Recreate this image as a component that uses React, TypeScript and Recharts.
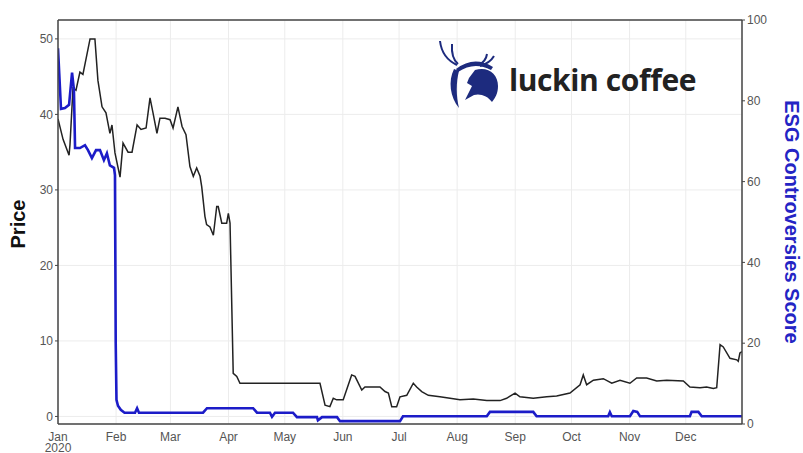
import React from "react";
import {
  LineChart,
  Line,
  XAxis,
  YAxis,
  CartesianGrid,
  ReferenceLine,
} from "recharts";

// days since 1 Jan 2020
const priceDays = [
  0, 2.7, 5.9, 6.4, 8, 9.6, 11.7, 13.3, 17.1, 19.7, 21.3, 23.5, 25.6, 27.7, 28.8,
  30.4, 33.1, 34.7, 37.4, 39.5, 42.2, 44.3, 47, 49.1, 50.7, 52.8, 54.4, 57.1,
  59.8, 61.4, 64, 66.2, 68.3, 70.4, 72.2, 74, 75.8, 76.7, 78.4, 79.3, 81.1, 82.9,
  84.7, 85.5, 87.4, 90, 90.9, 91.8, 93.5, 95.4, 97.1, 139.8, 142.5, 145.1, 146.9,
  148.7, 152.2, 156.7, 158.5, 162.1, 163.8, 171.8, 174.5, 176.3, 178.1, 180.7,
  182.5, 186.1, 189.6, 191.4, 194.1, 197.6, 203.8, 209.2, 214.5, 221.6, 228.8,
  235.9, 239.4, 243.9, 246.5, 253.6, 260.8, 266.1, 273.2, 278.6, 280.3, 282.1,
  285.7, 291, 295.5, 299.9, 305.2, 308.8, 314.1, 319.5, 324.8, 333.7, 337.2,
  342.6, 346.1, 349.7, 351.5, 353.3, 355, 358.6, 362.2, 363, 363.9, 365,
];
const prices = [
  39.4, 36.7, 34.6, 36, 43.5, 43.2, 45.6, 45.3, 50, 50, 44.5, 41, 40.2, 37.5,
  38.6, 34.9, 31.7, 36.2, 35, 35, 38.6, 38, 38.2, 42.2, 40.2, 37.5, 39.5, 39.5,
  39.3, 38.2, 41, 38.4, 37.3, 33.1, 31.8, 32.9, 31.8, 30.4, 26.5, 25.4, 25.1, 24,
  27.8, 27.8, 25.6, 25.6, 26.9, 25.6, 5.7, 5.3, 4.4, 4.4, 1.5, 1.3, 2.4, 2.2,
  2.2, 5.5, 5.3, 3.5, 3.9, 3.9, 3.3, 3.1, 1.3, 1.3, 2.6, 2.8, 4.4, 3.9, 3.3,
  2.8, 2.6, 2.4, 2.2, 2.3, 2.1, 2.1, 2.4, 3.1, 2.6, 2.4, 2.6, 2.7, 3.1, 4.2,
  5.5, 4.2, 4.8, 5, 4.4, 4.8, 4.4, 5.1, 5.1, 4.7, 4.8, 4.7, 3.9, 3.8, 3.9, 3.7,
  3.8, 9.5, 9.2, 7.7, 7.5, 7.3, 8.4, 8.6,
];

const esgDays = [
  0, 1.6, 3.7, 5.9, 7.5, 8.5, 9.1, 11.7, 14.4, 16, 18.1, 20.3, 22.4, 24.5, 26.1,
  27.7, 29.9, 30.4, 30.8, 31.2, 32, 33.5, 35.5, 41.1, 42.2, 43.2, 77.4, 79.5,
  104.1, 106.2, 113.1, 114.2, 115.8, 125.4, 127.5, 138.2, 138.7, 140.9, 148.9,
  150.5, 182.5, 184.1, 228.8, 230.5, 253.6, 255.4, 293.6, 294.5, 295.5, 305.2,
  307, 309.1, 310.6, 337.2, 338.1, 341.7, 343.5, 365,
];
const esgScores = [
  93, 78, 78.2, 79, 87, 82.7, 68.3, 68.3, 69, 67.8, 65.8, 67.8, 67.8, 65.3, 67,
  64, 63.4, 61.6, 20, 6, 4.5, 3.5, 2.8, 2.8, 3.9, 2.8, 2.8, 3.9, 3.9, 2.8, 2.8,
  1.8, 2.8, 2.8, 1.7, 1.7, 0.9, 1.7, 1.7, 0.7, 0.7, 1.9, 1.9, 3, 3, 1.9, 1.9,
  2.9, 1.9, 1.9, 3.2, 3, 1.9, 1.9, 3, 3, 1.9, 1.9,
];

const monthStarts = [0, 31, 60, 91, 121, 152, 182, 213, 244, 274, 305, 335];
const monthNames = [
  "Jan", "Feb", "Mar", "Apr", "May", "Jun",
  "Jul", "Aug", "Sep", "Oct", "Nov", "Dec",
];
const priceTicks = [0, 10, 20, 30, 40, 50];
const esgTicks = [0, 20, 40, 60, 80, 100];

const priceData = priceDays.map((d, i) => ({ day: d, price: prices[i] }));
const esgData = esgDays.map((d, i) => ({ day: d, esg: esgScores[i] }));

const FONT = "'Liberation Sans', Arial, sans-serif";
const NAVY = "#1d2b7e";

const MonthTick = (props: any) => {
  const { x, y, payload } = props;
  const idx = monthStarts.indexOf(payload.value);
  return (
    <g transform={`translate(${x},${y})`}>
      <text
        textAnchor="middle"
        fill="#555"
        fontSize={12}
        fontFamily={FONT}
        dy={9}
      >
        {monthNames[idx]}
        {idx === 0 && (
          <tspan x={0} dy={11}>
            2020
          </tspan>
        )}
      </text>
    </g>
  );
};

function Logo() {
  return (
    <div style={{ position: "absolute", left: 436, top: 36 }}>
      <svg width={70} height={76} viewBox="0 0 70 76" style={{ position: "absolute", left: 0, top: 0 }}>
        {/* antlers */}
        <path d="M4 5 Q6 22 21 29" stroke={NAVY} strokeWidth={2} fill="none" />
        <path d="M16 8 Q15 22 22 28" stroke={NAVY} strokeWidth={2} fill="none" />
        <path d="M51 18 Q50 25 43 29" stroke={NAVY} strokeWidth={2} fill="none" />
        <path d="M58 20 Q54 27 44 30" stroke={NAVY} strokeWidth={2} fill="none" />
        {/* top arc */}
        <path d="M20 33 Q38 19 57 31 L55 34 Q38 25 22 36 Z" fill={NAVY} />
        {/* left crescent */}
        <path d="M18 33 C12 45 14 61 23 72 C20 60 20 46 23 35 Z" fill={NAVY} />
        {/* right head with snout */}
        <path
          d="M39 34 C52 30 62 38 62 50 C62 58 59 62 56 66 C52 60 44 57 38 59 L29 64 L36 50 L31 47 L33 42 Z"
          fill={NAVY}
        />
      </svg>
      <span
        style={{
          position: "absolute",
          left: 73,
          top: 26,
          fontFamily: "'Open Sans', sans-serif",
          fontWeight: 700,
          fontSize: 30,
          lineHeight: "36px",
          color: "#222",
          letterSpacing: -0.4,
          whiteSpace: "nowrap",
        }}
      >
        luckin coffee
      </span>
    </div>
  );
}

export default function App() {
  return (
    <div
      style={{
        position: "absolute",
        left: 0,
        top: 0,
        width: 803,
        height: 453,
        background: "#fff",
        fontFamily: FONT,
        overflow: "hidden",
      }}
    >
      <LineChart
        width={803}
        height={453}
        margin={{ top: 20, right: 0, bottom: 0, left: 0 }}
      >
        <CartesianGrid yAxisId="price" stroke="#ececec" strokeWidth={1} />
        <XAxis
          dataKey="day"
          type="number"
          domain={[0, 365]}
          ticks={monthStarts}
          tick={<MonthTick />}
          height={29}
          axisLine={{ stroke: "#444", strokeWidth: 1.5 }}
          tickLine={false}
          allowDataOverflow
        />
        <YAxis
          yAxisId="price"
          orientation="left"
          width={58}
          domain={[-1, 52.5]}
          ticks={priceTicks}
          allowDataOverflow
          axisLine={{ stroke: "#444", strokeWidth: 1.5 }}
          tickLine={{ stroke: "#444" }}
          tickSize={3}
          tick={{ fill: "#555", fontSize: 12, fontFamily: FONT }}
        />
        <YAxis
          yAxisId="esg"
          orientation="right"
          width={61}
          domain={[0, 100]}
          ticks={esgTicks}
          allowDataOverflow
          axisLine={{ stroke: "#444", strokeWidth: 1.5 }}
          tickLine={{ stroke: "#444" }}
          tickSize={3}
          tick={{ fill: "#555", fontSize: 12, fontFamily: FONT }}
        />
        <ReferenceLine yAxisId="price" y={52.5} stroke="#444" strokeWidth={1.5} />
        <Line
          yAxisId="price"
          data={priceData}
          dataKey="price"
          type="linear"
          stroke="#222"
          strokeWidth={1.5}
          dot={false}
          isAnimationActive={false}
        />
        <Line
          yAxisId="esg"
          data={esgData}
          dataKey="esg"
          type="linear"
          stroke="#1c1cc8"
          strokeWidth={2.6}
          dot={false}
          isAnimationActive={false}
        />
      </LineChart>
      <div
        style={{
          position: "absolute",
          left: 18,
          top: 224,
          transform: "translate(-50%,-50%) rotate(-90deg)",
          fontWeight: 700,
          fontSize: 20,
          color: "#111",
          whiteSpace: "nowrap",
        }}
      >
        Price
      </div>
      <div
        style={{
          position: "absolute",
          left: 791,
          top: 222,
          transform: "translate(-50%,-50%) rotate(90deg)",
          fontWeight: 700,
          fontSize: 20,
          color: "#2424c4",
          whiteSpace: "nowrap",
        }}
      >
        ESG Controversies Score
      </div>
      <Logo />
    </div>
  );
}
